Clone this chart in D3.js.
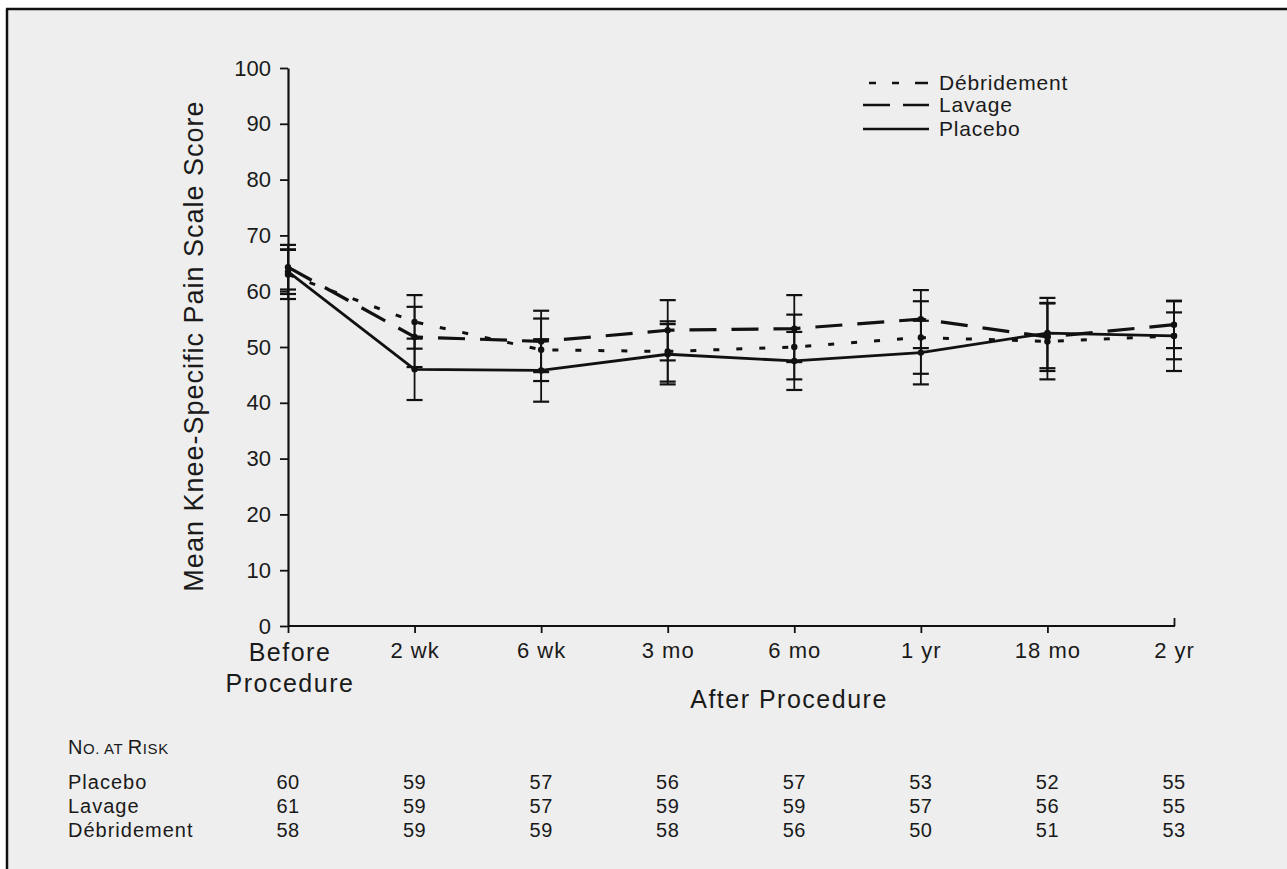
<!DOCTYPE html>
<html>
<head>
<meta charset="utf-8">
<script src="https://cdn.jsdelivr.net/npm/d3@7"></script>
<style>
  body { margin: 0; background: #ffffff; }
  svg { display: block; font-family: Arial, "Liberation Sans", Helvetica, sans-serif; }
</style>
</head>
<body>
<svg id="chart"></svg>
<script>
var w = 1287;
var h = 869;

// time points on the x axis
var timepoints = ["Before", "2 wk", "6 wk", "3 mo", "6 mo", "1 yr", "18 mo", "2 yr"];

// mean pain scores
var placebo     = [63.5, 46.0, 45.8, 48.7, 47.5, 49.0, 52.5, 52.0];
var lavage      = [64.3, 51.8, 51.0, 53.0, 53.3, 55.0, 51.8, 54.0];
var debridement = [63.0, 54.5, 49.5, 49.2, 50.0, 51.7, 51.0, 52.0];

// half width of the error bars
var placebo_err     = [4.0, 5.5, 5.6, 5.4, 5.2, 5.7, 6.3, 6.3];
var lavage_err      = [4.0, 5.4, 5.5, 5.4, 6.0, 5.2, 6.1, 4.2];
var debridement_err = [4.4, 4.8, 5.6, 5.4, 5.8, 6.5, 6.8, 4.2];

// number at risk table
var risk_names   = ["Placebo", "Lavage", "Débridement"];
var risk_placebo = [60, 59, 57, 56, 57, 53, 52, 55];
var risk_lavage  = [61, 59, 57, 59, 59, 57, 56, 55];
var risk_debride = [58, 59, 59, 58, 56, 50, 51, 53];

var y_ticks = [0, 10, 20, 30, 40, 50, 60, 70, 80, 90, 100];

var series = [
    {name: "Débridement", values: debridement, err: debridement_err, dash: "6,17", width: 3},
    {name: "Lavage",      values: lavage,      err: lavage_err,      dash: "27,15", width: 3.2},
    {name: "Placebo",     values: placebo,     err: placebo_err,     dash: null, width: 2.8}
];

var svg = d3.select("#chart").attr("width", w).attr("height", h);

// paper background and frame
svg.append("rect").attr("x", 6).attr("y", 9).attr("width", w - 6).attr("height", h - 9).attr("fill", "#eeeeee");
svg.append("line").attr("x1", 6).attr("y1", 9).attr("x2", w).attr("y2", 9).style("stroke", "#111").style("stroke-width", "2.5px");
svg.append("line").attr("x1", 7).attr("y1", 9).attr("x2", 7).attr("y2", h).style("stroke", "#111").style("stroke-width", "2.5px");

var x = d3.scalePoint().domain(timepoints).range([288, 1174]);
var y = d3.scaleLinear().domain([0, 100]).range([626, 68]);

// y axis
var yAxis = svg.append("g")
    .attr("transform", "translate(288,0)")
    .call(d3.axisLeft(y).tickValues(y_ticks).tickSize(8).tickSizeOuter(0).tickPadding(9));
yAxis.select(".domain").style("stroke", "#111").style("stroke-width", "2.2px");
yAxis.selectAll(".tick line").style("stroke", "#111").style("stroke-width", "1.8px");
yAxis.selectAll(".tick text").style("font-size", "22px").style("fill", "#1a1a1a");

// x axis
var xAxis = svg.append("g")
    .attr("transform", "translate(0,626)")
    .call(d3.axisBottom(x).tickSize(7).tickSizeOuter(0).tickPadding(9));
xAxis.select(".domain").attr("d", "M288,0H1175").style("stroke", "#111").style("stroke-width", "2.2px");
xAxis.selectAll(".tick line").style("stroke", "#111").style("stroke-width", "1.8px")
    .attr("y2", function(d) { return d == "2 yr" ? -8 : 7; });
xAxis.selectAll(".tick text")
    .style("font-size", "22px").style("fill", "#1a1a1a").style("letter-spacing", "1px")
    .text(function(d) { return d == "Before" ? "" : d; });

// two-line label for the first point
var before = svg.append("text").attr("text-anchor", "middle")
    .style("font-size", "25px").style("fill", "#1a1a1a").style("letter-spacing", "1.5px");
before.append("tspan").attr("x", x("Before") + 2).attr("y", 661).text("Before");
before.append("tspan").attr("x", x("Before") + 2).attr("y", 692).text("Procedure");

svg.append("text").attr("x", 789).attr("y", 708).attr("text-anchor", "middle")
    .style("font-size", "25px").style("fill", "#1a1a1a").style("letter-spacing", "1.5px")
    .text("After Procedure");

svg.append("text")
    .attr("transform", "translate(203,346) rotate(-90)")
    .attr("text-anchor", "middle")
    .style("font-size", "27px").style("fill", "#1a1a1a").style("letter-spacing", "1px")
    .text("Mean Knee-Specific Pain Scale Score");

// error bars
series.forEach(function(s) {
    var g = svg.append("g");
    s.values.forEach(function(v, i) {
        var cx = x(timepoints[i]);
        var lo = v - s.err[i], hi = v + s.err[i];
        g.append("line").attr("x1", cx).attr("x2", cx).attr("y1", y(lo)).attr("y2", y(hi))
            .style("stroke", "#111").style("stroke-width", "1.8px");
        [lo, hi].forEach(function(e) {
            g.append("line").attr("x1", cx - 8).attr("x2", cx + 8).attr("y1", y(e)).attr("y2", y(e))
                .style("stroke", "#111").style("stroke-width", "2.2px");
        });
    });
});

// lines
var line = d3.line()
    .x(function(d, i) { return x(timepoints[i]); })
    .y(function(d) { return y(d); });

series.forEach(function(s) {
    svg.append("path").datum(s.values)
        .attr("d", line)
        .style("fill", "none")
        .style("stroke", "#111")
        .style("stroke-width", s.width + "px")
        .style("stroke-dasharray", s.dash);
    svg.selectAll(null).data(s.values).enter().append("circle")
        .attr("cx", function(d, i) { return x(timepoints[i]); })
        .attr("cy", function(d) { return y(d); })
        .attr("r", 3.2)
        .style("fill", "#111");
});

// legend
var legend_y = [83, 105, 129];
series.forEach(function(s, i) {
    svg.append("line").attr("x1", 863).attr("x2", 929).attr("y1", legend_y[i]).attr("y2", legend_y[i])
        .style("stroke", "#111").style("stroke-width", "2.5px")
        .style("stroke-dasharray", s.dash == "6,17" ? "0,6,7,16,7,16,7" : (s.dash ? "27,13" : null));
    svg.append("text").attr("x", 939).attr("y", legend_y[i] + 7)
        .style("font-size", "21px").style("fill", "#1a1a1a").style("letter-spacing", "0.8px")
        .text(s.name);
});

// number at risk table
var risk_title = svg.append("text").attr("x", 68).attr("y", 754).style("fill", "#1a1a1a").style("letter-spacing", "0.6px");
risk_title.append("tspan").style("font-size", "20px").text("N");
risk_title.append("tspan").style("font-size", "15px").text("O. AT ");
risk_title.append("tspan").style("font-size", "20px").text("R");
risk_title.append("tspan").style("font-size", "15px").text("ISK");

var risk_rows = [risk_placebo, risk_lavage, risk_debride];
var row_y = [789, 813, 837];
risk_rows.forEach(function(row, r) {
    svg.append("text").attr("x", 68).attr("y", row_y[r])
        .style("font-size", "20px").style("fill", "#1a1a1a").style("letter-spacing", "1px")
        .text(risk_names[r]);
    svg.selectAll(null).data(row).enter().append("text")
        .attr("x", function(d, i) { return x(timepoints[i]); })
        .attr("y", row_y[r])
        .attr("text-anchor", "middle")
        .style("font-size", "20px").style("fill", "#1a1a1a").style("letter-spacing", "0.5px")
        .text(function(d) { return d; });
});
</script>
</body>
</html>
